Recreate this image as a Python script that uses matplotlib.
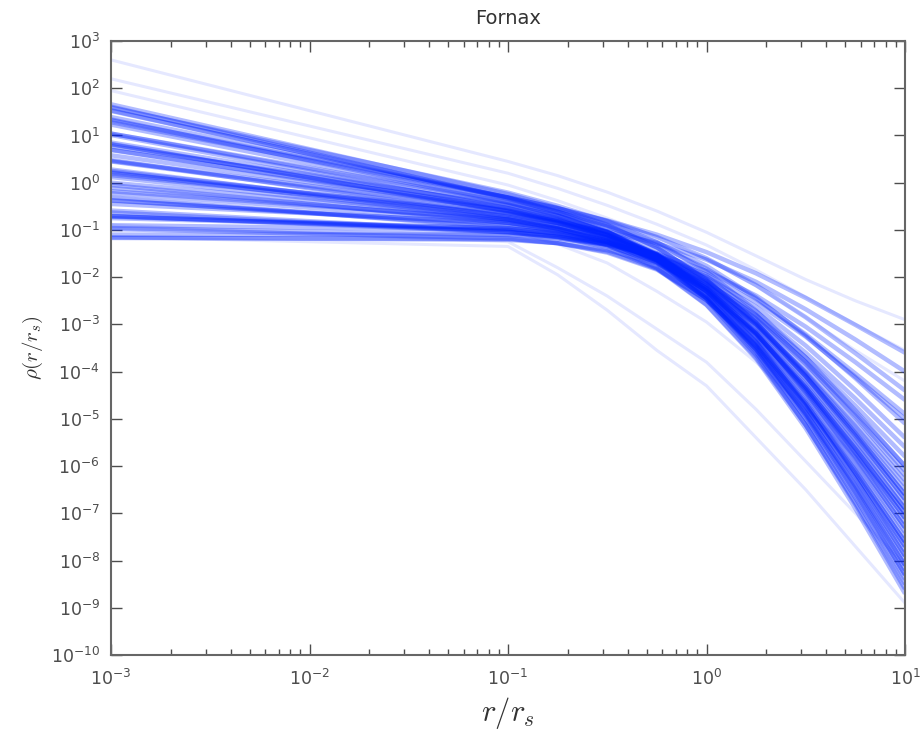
import matplotlib
matplotlib.use("Agg")
import matplotlib.pyplot as plt
import numpy as np
from matplotlib.ticker import LogLocator, NullFormatter

# radius nodes, log10(r/r_s)
log_r = [-3.0, -1.0, -0.75, -0.5, -0.25, 0.0, 0.25, 0.5, 0.75, 1.0]

# log10(rho) at each node, one row per sampled profile
cored = [
    [-1.10, -1.10, -1.18, -1.34, -1.68, -2.28, -3.19, -4.38, -5.74, -7.20],
    [-1.16, -1.21, -1.28, -1.43, -1.71, -2.23, -3.00, -4.01, -5.16, -6.40],
    [-0.90, -1.00, -1.10, -1.31, -1.72, -2.45, -3.53, -4.94, -6.56, -8.30],
    [-0.96, -1.11, -1.18, -1.31, -1.56, -1.99, -2.63, -3.45, -4.39, -5.40],
    [-0.98, -1.18, -1.28, -1.48, -1.84, -2.49, -3.44, -4.67, -6.09, -7.60],
    [-0.72, -0.97, -1.07, -1.26, -1.60, -2.20, -3.08, -4.21, -5.51, -6.90],
    [-0.71, -1.01, -1.14, -1.38, -1.82, -2.59, -3.73, -5.20, -6.90, -8.70],
    [-0.70, -1.05, -1.15, -1.32, -1.63, -2.14, -2.88, -3.84, -4.94, -6.10],
    [-0.45, -0.85, -0.98, -1.22, -1.63, -2.34, -3.38, -4.73, -6.26, -7.90],
    [-0.59, -1.04, -1.14, -1.28, -1.50, -1.87, -2.39, -3.05, -3.80, -4.60],
    [-1.17, -1.19, -1.28, -1.46, -1.82, -2.48, -3.47, -4.75, -6.22, -7.80],
    [-0.75, -0.97, -1.07, -1.25, -1.58, -2.15, -3.00, -4.10, -5.36, -6.70],
    [-0.63, -1.05, -1.15, -1.30, -1.54, -1.95, -2.53, -3.26, -4.11, -5.00],
]
shallow_cusp = [
    [-0.38, -0.88, -1.01, -1.23, -1.61, -2.24, -3.16, -4.33, -5.67, -7.10],
    [-0.37, -0.92, -1.05, -1.26, -1.61, -2.19, -3.02, -4.09, -5.30, -6.60],
    [-0.18, -0.78, -0.94, -1.20, -1.64, -2.39, -3.46, -4.84, -6.42, -8.10],
    [-0.31, -0.96, -1.09, -1.29, -1.60, -2.10, -2.81, -3.70, -4.72, -5.80],
    [-0.11, -0.81, -0.97, -1.22, -1.63, -2.30, -3.27, -4.50, -5.91, -7.40],
    [0.00, -0.75, -0.91, -1.15, -1.53, -2.15, -3.04, -4.16, -5.44, -6.80],
    [-0.05, -0.85, -1.04, -1.32, -1.80, -2.58, -3.70, -5.13, -6.77, -8.50],
    [0.20, -0.65, -0.81, -1.05, -1.41, -1.99, -2.80, -3.81, -4.97, -6.20],
    [0.12, -0.78, -0.97, -1.25, -1.69, -2.40, -3.41, -4.69, -6.15, -7.70],
    [0.25, -0.70, -0.85, -1.03, -1.28, -1.63, -2.10, -2.68, -3.32, -4.00],
    [-0.22, -0.84, -1.00, -1.26, -1.70, -2.44, -3.51, -4.87, -6.44, -8.10],
    [0.16, -0.67, -0.85, -1.11, -1.53, -2.21, -3.18, -4.41, -5.81, -7.30],
    [0.28, -0.75, -0.93, -1.17, -1.53, -2.08, -2.84, -3.79, -4.86, -6.00],
]
cusp = [
    [0.22, -0.78, -0.97, -1.24, -1.65, -2.29, -3.20, -4.33, -5.63, -7.00],
    [0.46, -0.59, -0.80, -1.11, -1.60, -2.39, -3.50, -4.90, -6.50, -8.20],
    [0.45, -0.65, -0.85, -1.11, -1.51, -2.12, -2.97, -4.03, -5.23, -6.50],
    [0.58, -0.57, -0.79, -1.09, -1.55, -2.27, -3.27, -4.54, -5.98, -7.50],
    [0.48, -0.72, -0.92, -1.17, -1.52, -2.03, -2.73, -3.60, -4.57, -5.60],
    [0.77, -0.48, -0.71, -1.04, -1.53, -2.30, -3.38, -4.73, -6.27, -7.90],
    [0.70, -0.60, -0.82, -1.10, -1.50, -2.10, -2.92, -3.94, -5.09, -6.30],
    [0.85, -0.50, -0.75, -1.10, -1.63, -2.45, -3.59, -5.03, -6.67, -8.40],
    [0.81, -0.59, -0.83, -1.14, -1.58, -2.24, -3.15, -4.28, -5.56, -6.90],
    [1.04, -0.41, -0.63, -0.90, -1.26, -1.76, -2.43, -3.24, -4.14, -5.10],
    [0.69, -0.54, -0.78, -1.12, -1.65, -2.48, -3.65, -5.13, -6.81, -8.60],
    [0.82, -0.61, -0.85, -1.16, -1.61, -2.29, -3.21, -4.35, -5.64, -7.00],
]
steep_cusp = [
    [1.04, -0.46, -0.71, -1.05, -1.53, -2.25, -3.23, -4.45, -5.83, -7.30],
    [1.01, -0.54, -0.81, -1.16, -1.68, -2.46, -3.54, -4.88, -6.39, -8.00],
    [1.28, -0.32, -0.58, -0.91, -1.37, -2.05, -2.96, -4.09, -5.36, -6.70],
    [1.23, -0.42, -0.70, -1.05, -1.56, -2.32, -3.35, -4.63, -6.07, -7.60],
    [1.39, -0.31, -0.54, -0.80, -1.10, -1.47, -1.92, -2.44, -3.01, -3.60],
    [1.34, -0.41, -0.69, -1.04, -1.53, -2.24, -3.20, -4.38, -5.71, -7.10],
    [1.59, -0.21, -0.49, -0.82, -1.26, -1.88, -2.71, -3.70, -4.82, -6.00],
    [1.53, -0.32, -0.63, -1.03, -1.59, -2.44, -3.58, -5.00, -6.61, -8.30],
    [1.66, -0.24, -0.53, -0.89, -1.37, -2.06, -2.96, -4.06, -5.30, -6.60],
    [1.61, -0.34, -0.62, -0.93, -1.32, -1.82, -2.46, -3.21, -4.04, -4.90],
    [1.32, -0.31, -0.54, -0.81, -1.15, -1.60, -2.17, -2.85, -3.61, -4.40],
    [1.52, -0.31, -0.61, -0.99, -1.52, -2.30, -3.36, -4.67, -6.15, -7.70],
]
outliers_high = [
    [2.60, 0.45, 0.15, -0.20, -0.60, -1.05, -1.55, -2.05, -2.50, -2.90],
    [2.20, 0.20, -0.12, -0.48, -0.88, -1.32, -1.85, -2.42, -3.00, -3.55],
    [1.95, -0.05, -0.38, -0.75, -1.15, -1.62, -2.18, -2.85, -3.55, -4.20],
]
outliers_low = [
    [-0.30, -1.00, -1.30, -1.70, -2.30, -2.95, -3.80, -4.80, -5.80, -6.90],
    [-0.90, -1.25, -1.80, -2.40, -3.10, -3.80, -4.80, -5.90, -7.00, -8.10],
    [-1.15, -1.35, -1.95, -2.70, -3.55, -4.30, -5.40, -6.50, -7.70, -8.90],
]

fig = plt.figure(figsize=(9.23, 7.36), dpi=100)
ax = fig.add_axes([0.1203, 0.110, 0.8602, 0.8343])

r = 10.0 ** np.array(log_r)
for group in [cored, shallow_cusp, cusp, steep_cusp]:
    for row in group:
        ax.plot(r, 10.0 ** np.array(row), color="#0022ff", lw=3.2, alpha=0.3,
                solid_joinstyle="round", solid_capstyle="butt")
for group in [outliers_high, outliers_low]:
    for row in group:
        ax.plot(r, 10.0 ** np.array(row), color="#0022ff", lw=2.2, alpha=0.1,
                solid_joinstyle="round")

ax.set_xscale("log")
ax.set_yscale("log")
ax.set_xlim(1e-3, 1e1)
ax.set_ylim(1e-10, 1e3)
ax.yaxis.set_major_locator(LogLocator(base=10, numticks=20))
ax.yaxis.set_minor_locator(LogLocator(base=10, subs=(), numticks=20))
ax.xaxis.set_minor_locator(LogLocator(base=10, subs=np.arange(2, 10), numticks=20))
ax.xaxis.set_minor_formatter(NullFormatter())

for s in ax.spines.values():
    s.set_color("0.4")
    s.set_linewidth(1.5)
ax.tick_params(which="both", direction="in", top=True, right=True, colors="0.3",
               labelsize=12.5)
ax.tick_params(axis="x", pad=10)
ax.tick_params(axis="y", pad=8)
ax.tick_params(which="major", length=8, width=1)
ax.tick_params(which="minor", length=4, width=1)

ax.set_title("Fornax", fontsize=14, color="0.2", pad=12)
ax.set_xlabel(r"$r/r_s$", fontsize=22, color="0.2", math_fontfamily="cm")
ax.set_ylabel(r"$\rho(r/r_s)$", fontsize=15, color="0.2", math_fontfamily="cm")

fig.savefig("out.png", dpi=100)
